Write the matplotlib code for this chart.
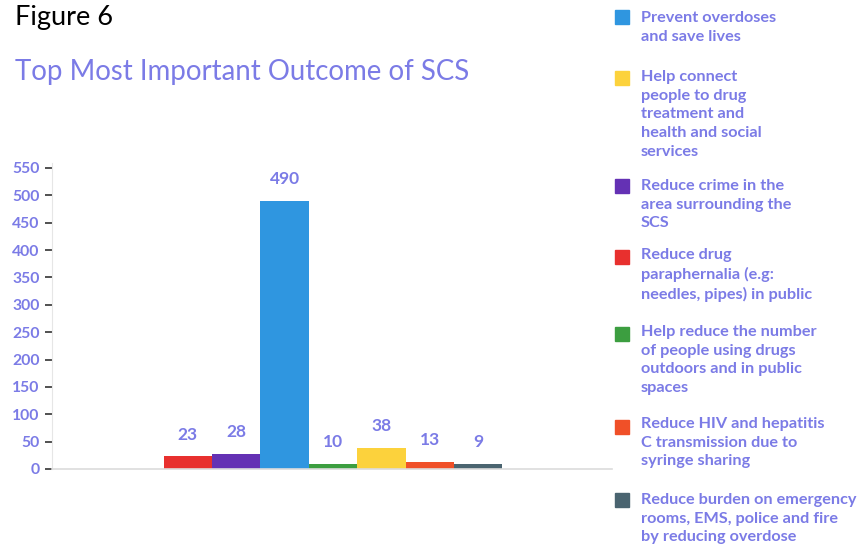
import matplotlib
matplotlib.use("Agg")
import matplotlib.pyplot as plt
from matplotlib.patches import Rectangle

# Data (bar order, left to right)
categories = [
    "Reduce drug\nparaphernalia (e.g:\nneedles, pipes) in public",
    "Reduce crime in the\narea surrounding the\nSCS",
    "Prevent overdoses\nand save lives",
    "Help reduce the number\nof people using drugs\noutdoors and in public\nspaces",
    "Help connect\npeople to drug\ntreatment and\nhealth and social\nservices",
    "Reduce HIV and hepatitis\nC transmission due to\nsyringe sharing",
    "Reduce burden on emergency\nrooms, EMS, police and fire\nby reducing overdose",
]
values = [23, 28, 490, 10, 38, 13, 9]
colors = ["#e8302e", "#6431b4", "#2f96e0", "#3c9e40", "#fcd23c", "#f05028", "#4a6470"]
legend_order = [2, 4, 1, 0, 3, 5, 6]
yticks = [0, 50, 100, 150, 200, 250, 300, 350, 400, 450, 500, 550]

txt = "#7b7be6"
plt.rcParams['font.family'] = ['Lato', 'DejaVu Sans']

W, H = 865, 560
fig = plt.figure(figsize=(W / 100, H / 100), dpi=100)
ax = fig.add_axes([52 / W, 1 - 469 / H, (612 - 52) / W, (469 - 162.5) / H])

x = list(range(len(values)))
bars = ax.bar(x, values, width=1.0, color=colors)
ax.set_xlim(-2.81, len(values) - 1 + 0.5 + 2.27)
ax.set_ylim(0, 560)
ax.set_yticks(yticks)
ax.set_yticklabels([str(t) for t in yticks])
ax.set_xticks([])
for s in ["top", "right"]:
    ax.spines[s].set_visible(False)
ax.spines["left"].set_color("#e6e6e6")
ax.spines["bottom"].set_color("#dcdcdc")
ax.spines["bottom"].set_linewidth(1.2)
ax.tick_params(axis="y", colors="#333333", length=5, width=1.2, labelcolor=txt,
               labelsize=11.3, pad=4)
for lab in ax.get_yticklabels():
    lab.set_fontweight("bold")

for xi, v in zip(x, values):
    ax.annotate(str(v), (xi, v), xytext=(0, 10), textcoords="offset points",
                ha="center", va="bottom", color=txt, fontsize=12.5, fontweight="bold")

fig.text(15 / W, 1 - 18 / H, "Figure 6", color="black", fontsize=19.5,
         ha="left", va="center")
fig.text(15 / W, 1 - 72 / H, "Top Most Important Outcome of SCS", color=txt,
         fontsize=19.9, ha="left", va="center")

# Custom legend
leg_c = [17, 76, 185, 254, 331, 423, 499]
sq_y = [17, 78, 186, 257, 334, 427, 500]
for i, idx in enumerate(legend_order):
    s = 14
    fig.patches.append(Rectangle(((622 - 7) / W, 1 - (sq_y[i] + 7) / H), s / W, s / H,
                                 transform=fig.transFigure, color=colors[idx],
                                 figure=fig))
    fig.text(641 / W, 1 - (leg_c[i] - 6) / H, categories[idx], color=txt,
             fontsize=11.7, fontweight="bold", ha="left", va="top", linespacing=1.43)

fig.savefig("out.png", dpi=100, facecolor="white")
